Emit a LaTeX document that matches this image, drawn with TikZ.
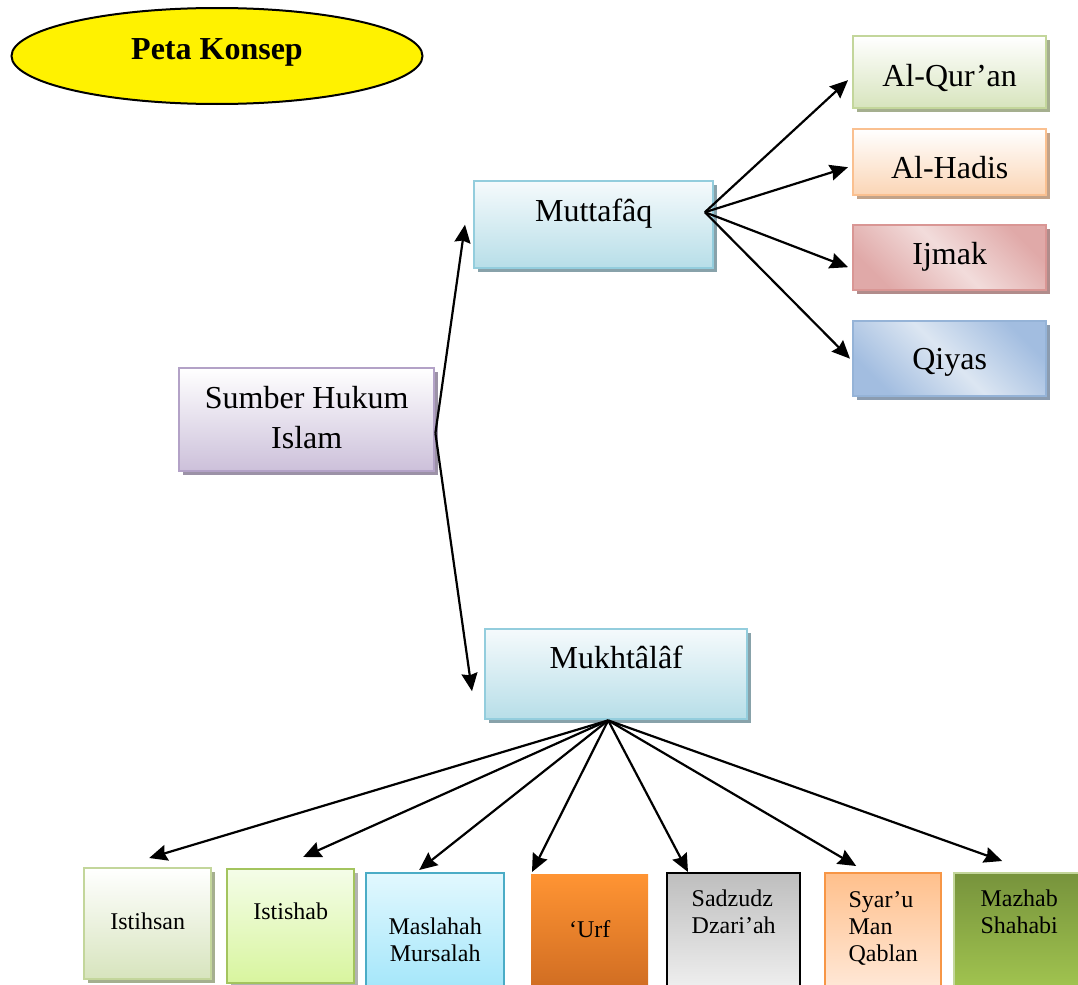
\documentclass[tikz,border=0pt]{standalone}
\usepackage{fontspec}
\setmainfont{Liberation Serif}
\usetikzlibrary{arrows.meta,shapes.geometric,shadows}

\definecolor{sumberline}{HTML}{B3A2C7}
\definecolor{sumberbot}{HTML}{CCC0DA}
\definecolor{tealline}{HTML}{93CDDD}
\definecolor{tealtop}{HTML}{F5FAFC}
\definecolor{tealbot}{HTML}{B7DEE8}
\definecolor{greenline}{HTML}{C3D69B}
\definecolor{greenbot}{HTML}{D7E4BD}
\definecolor{orangeline}{HTML}{FAC090}
\definecolor{orangebot}{HTML}{FBD5B5}
\definecolor{redline}{HTML}{D99694}
\definecolor{reddark}{HTML}{E0A9A8}
\definecolor{redlight}{HTML}{F2DCDB}
\definecolor{blueline}{HTML}{95B3D7}
\definecolor{bluedark}{HTML}{A2BDE0}
\definecolor{bluelight}{HTML}{DCE6F2}
\definecolor{limeline}{HTML}{A3C45E}
\definecolor{limetop}{HTML}{F4FDE8}
\definecolor{limebot}{HTML}{D8F59E}
\definecolor{cyanline}{HTML}{4BACC6}
\definecolor{cyantop}{HTML}{E2F8FE}
\definecolor{cyanbot}{HTML}{A3E6FA}
\definecolor{urftop}{HTML}{FF9433}
\definecolor{urfbot}{HTML}{CF6C22}
\definecolor{graytop}{HTML}{BEBEBE}
\definecolor{graybot}{HTML}{F0F0F0}
\definecolor{peachline}{HTML}{F79646}
\definecolor{peachtop}{HTML}{FFC08C}
\definecolor{peachbot}{HTML}{FFE9D9}
\definecolor{olivetop}{HTML}{77933C}
\definecolor{olivebot}{HTML}{A2C550}

\begin{document}
\begin{tikzpicture}[
    x=0.5pt, y=-0.5pt,
    box/.style={rectangle, line width=1.2pt, inner xsep=0pt, inner ysep=0pt,
      anchor=north west, align=center, font=\fontsize{16}{20}\selectfont},
    small/.style={font=\fontsize{12}{13.5}\selectfont},
    shadebox/.style n args={3}{draw=#1, top color=#2, bottom color=#3},
    shadowed/.style={drop shadow={shadow xshift=2pt, shadow yshift=-2pt,
      fill=#1, opacity=1}},
    arr/.style={line width=1.1pt, -{Stealth[length=9pt,width=8pt,inset=1pt]}}
  ]
  \useasboundingbox (0,0) rectangle (1078,985);

  % judul
  \node[ellipse, draw, line width=1pt, fill=yellow, inner sep=0pt,
    minimum width=205.5pt, minimum height=48pt, text height=11pt, text depth=7pt,
    font=\bfseries\fontsize{16}{20}\selectfont] (judul) at (217,56) {Peta Konsep};

  % pusat
  \node[box, shadebox={sumberline}{white}{sumberbot}, shadowed=sumberline!55!gray,
    minimum width=127.5pt, text height=40pt, text depth=11.5pt]
    (sumber) at (178,367) {Sumber Hukum\\Islam};
  \node[box, shadebox={tealline}{tealtop}{tealbot}, shadowed=tealline!45!gray,
    minimum width=119.5pt, text height=20pt, text depth=23.5pt]
    (muttafaq) at (473,180) {Muttafâq};
  \node[box, shadebox={tealline}{tealtop}{tealbot}, shadowed=tealline!45!gray,
    minimum width=131pt, text height=19.5pt, text depth=25.5pt]
    (mukhtalaf) at (484,628) {Mukhtâlâf};

  % muttafaq
  \node[box, shadebox={greenline}{white}{greenbot}, shadowed=greenline!55!gray,
    minimum width=96.5pt, text height=25pt, text depth=11pt]
    (quran) at (852,35) {Al-Qur’an};
  \node[box, shadebox={orangeline}{white}{orangebot}, shadowed=orangeline!55!gray,
    minimum width=96.5pt, text height=24.5pt, text depth=8.5pt]
    (hadis) at (852,128) {Al-Hadis};
  \node[box, draw=redline, top color=reddark, bottom color=reddark,
    middle color=redlight, shading angle=-45, shadowed=redline!55!gray,
    minimum width=96.5pt, text height=19.5pt, text depth=13pt]
    (ijmak) at (852,224) {Ijmak};
  \node[box, draw=blueline, top color=bluedark, bottom color=bluedark,
    middle color=bluelight, shading angle=-45, shadowed=blueline!55!gray,
    minimum width=96.5pt, text height=24pt, text depth=13.5pt]
    (qiyas) at (852,320) {Qiyas};

  % mukhtalaf
  \node[box, small, shadebox={greenline}{white}{greenbot}, shadowed=greenline!55!gray,
    minimum width=63.5pt, text height=30.5pt, text depth=25pt]
    (istihsan) at (83,867) {Istihsan};
  \node[box, small, shadebox={limeline}{limetop}{limebot}, shadowed=black!30,
    minimum width=63.5pt, text height=25pt, text depth=32pt]
    (istishab) at (226,868) {Istishab};
  \node[box, small, shadebox={cyanline}{cyantop}{cyanbot},
    minimum width=69pt, text height=44pt, text depth=15pt]
    (maslahah) at (365,872) {Maslahah\\Mursalah};
  \node[box, small, draw=none, top color=urftop, bottom color=urfbot,
    minimum width=58.5pt, text height=31.5pt, text depth=27pt]
    (urf) at (530,873) {‘Urf};
  \node[box, small, align=left, shadebox={black}{graytop}{graybot},
    minimum width=66.5pt, text height=30pt, text depth=29pt]
    (sadzudz) at (666,872) {Sadzudz\\Dzari’ah};
  \node[box, small, align=left, shadebox={peachline}{peachtop}{peachbot},
    minimum width=58pt, text height=44pt, text depth=15pt]
    (syaru) at (824,872) {Syar’u\\Man\\Qablan};
  \node[box, small, align=left, shadebox={greenline}{olivetop}{olivebot},
    minimum width=65pt, text height=30pt, text depth=29pt]
    (mazhab) at (953,872) {Mazhab\\Shahabi};

  % panah
  \coordinate (sumberout) at ([yshift=-6.75pt]sumber.east);
  \coordinate (muttafaqout) at ([xshift=-4.75pt,yshift=6.25pt]muttafaq.east);
  \coordinate (mukhtalafout) at ([xshift=-4pt]mukhtalaf.south);

  \draw[arr] (sumberout) -- ([xshift=-4pt]muttafaq.west);
  \draw[arr] (sumberout) -- ([xshift=-6pt,yshift=-8.5pt]mukhtalaf.west);

  \draw[arr] (muttafaqout) -- ([xshift=-2pt,yshift=-4pt]quran.west);
  \draw[arr] (muttafaqout) -- ([xshift=-2pt,yshift=-2.5pt]hadis.west);
  \draw[arr] (muttafaqout) -- ([xshift=-2pt,yshift=-4.75pt]ijmak.west);
  \draw[arr] (muttafaqout) -- ([xshift=-1pt]qiyas.west);

  \draw[arr] (mukhtalafout) -- ([xshift=0.75pt,yshift=4.5pt]istihsan.north);
  \draw[arr] (mukhtalafout) -- ([xshift=6.25pt,yshift=5.5pt]istishab.north);
  \draw[arr] (mukhtalafout) -- ([xshift=-8pt,yshift=1pt]maslahah.north);
  \draw[arr] (mukhtalafout) -- ([xshift=1pt,yshift=0.5pt]urf.north west);
  \draw[arr] (mukhtalafout) -- ([xshift=11pt]sadzudz.north west);
  \draw[arr] (mukhtalafout) -- ([xshift=-13.5pt,yshift=3pt]syaru.north);
  \draw[arr] (mukhtalafout) -- ([xshift=-8.5pt,yshift=5.5pt]mazhab.north);
\end{tikzpicture}
\end{document}
